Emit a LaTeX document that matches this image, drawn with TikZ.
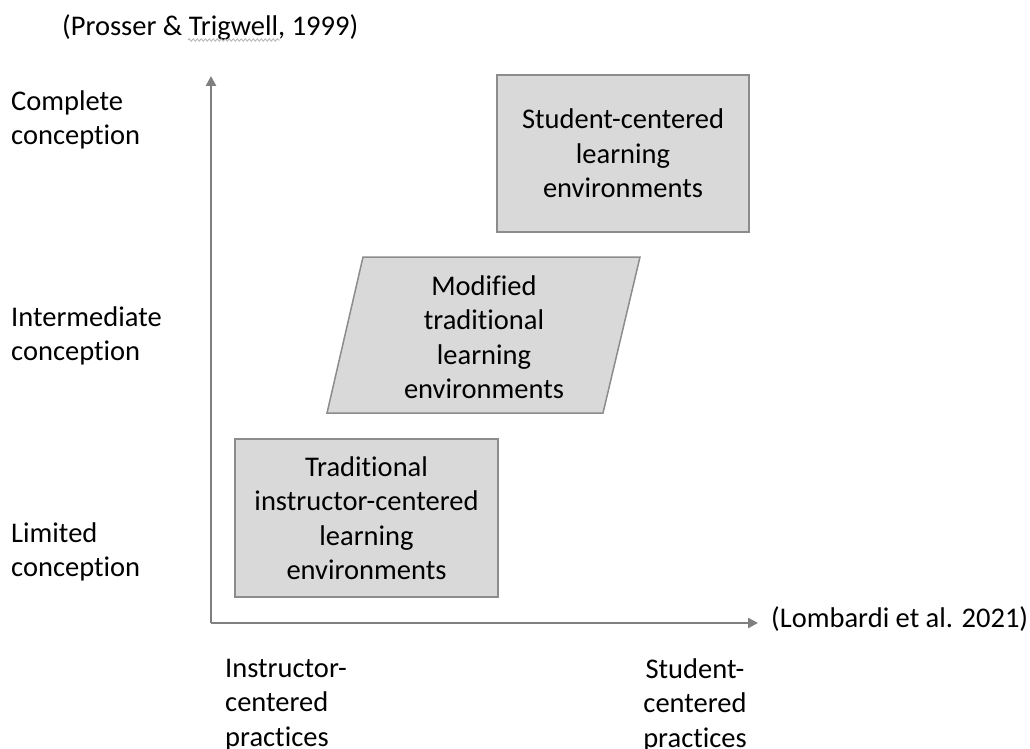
\documentclass[tikz,border=0pt]{standalone}
\usepackage{fontspec}
\setmainfont[RawFeature={-liga;-clig;-dlig}]{Carlito}
\usetikzlibrary{arrows.meta,decorations.pathmorphing}
\definecolor{boxfill}{HTML}{D9D9D9}
\definecolor{boxline}{HTML}{8C8C8C}
\definecolor{axisgray}{HTML}{7F7F7F}
\begin{document}
\begin{tikzpicture}[x=1pt,y=-1pt,
  lbl/.style={inner sep=0pt,font=\fontsize{28.5}{34.5}\selectfont,text=black},
  boxed/.style={draw=boxline,fill=boxfill,line width=1.5pt},
  axisline/.style={draw=axisgray,line width=2.5pt,-{Triangle[length=10pt,width=10pt]}}]
\useasboundingbox (0,0) rectangle (1030,749);
% title
\node[lbl,anchor=base west] (title) at (62,36) {(Prosser \& Trigwell, 1999)};
\draw[gray!60,line width=0.8pt,decorate,decoration={snake,amplitude=1.2pt,segment length=4pt}] (188,40) -- (280,40);
% axes
\coordinate (origin) at (211,623);
\coordinate (ytip) at (211,76);
\coordinate (xtip) at (758,623);
\draw[axisline] (origin) -- (ytip);
\draw[axisline] (origin) -- (xtip);
% y labels
\node[lbl,align=left,anchor=west] (complete) at (11,120) {Complete\\conception};
\node[lbl,align=left,anchor=west] (intermediate) at (11,336) {Intermediate\\conception};
\node[lbl,align=left,anchor=west] (limited) at (11,552) {Limited\\conception};
% x labels
\node[lbl,anchor=base west] (lombardi) at (771,627) {(Lombardi et al. 2021)};
\node[lbl,align=left,anchor=west] (instr) at (225,705) {Instructor-\\centered\\practices};
\node[lbl,align=center] (stud) at (695,705) {Student-\\centered\\practices};
% boxes
\node[boxed,lbl,align=center,minimum width=263pt,minimum height=158pt] (trad) at (366.5,518) {Traditional\\instructor-centered\\learning\\environments};
\draw[boxed] (363,257) -- (640,257) -- (603,413) -- (327,413) -- cycle;
\node[lbl,align=center] (mod) at (484,337) {Modified\\traditional\\learning\\environments};
\node[boxed,lbl,align=center,minimum width=252pt,minimum height=157pt] (stu) at (623,153.5) {Student-centered\\learning\\environments};
\end{tikzpicture}
\end{document}
